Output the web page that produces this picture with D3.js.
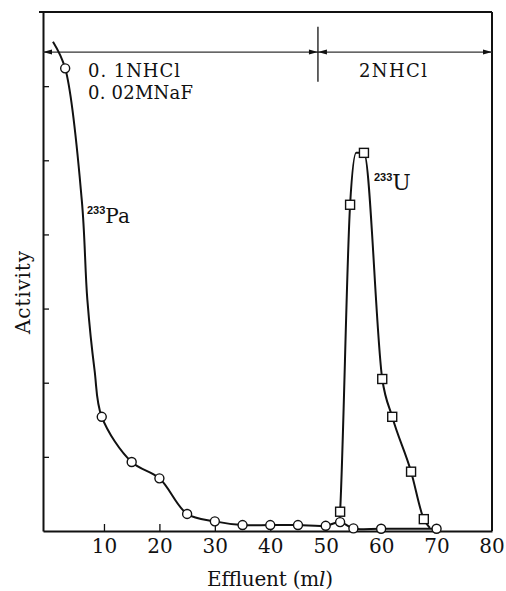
<!DOCTYPE html>
<html><head><meta charset="utf-8">
<script src="https://cdn.jsdelivr.net/npm/d3@7"></script>
<style>
html,body{margin:0;padding:0;background:#fff;}
svg{display:block;}
text{font-family:"DejaVu Serif","Liberation Serif",serif;fill:#111;}
</style></head>
<body>
<script>
// ---- data ----
const xTicks = [10, 20, 30, 40, 50, 60, 70, 80];
const yTicks = [1, 2, 3, 4, 5, 6];
// 233Pa: measured points (circles)
const paX = [3, 9.6, 15, 20, 25, 30, 35, 40, 45, 50, 52.6, 55, 60, 70];
const paY = [6.24, 1.54, 0.93, 0.71, 0.23, 0.13, 0.08, 0.08, 0.08, 0.07, 0.12, 0.035, 0.03, 0.03];
// 233Pa: unmarked points along the drawn curve
const paGuideX = [0.8, 6.0, 7.0, 8.3];
const paGuideY = [6.6, 4.46, 3.12, 2.17];
// 233U: measured points (squares)
const uX = [52.6, 54.4, 56.9, 60.2, 62.0, 65.4, 67.7];
const uY = [0.26, 4.40, 5.10, 2.05, 1.54, 0.80, 0.16];
// 233U: unmarked points along the drawn curve
const uGuideX = [52.5, 55.5, 68.8];
const uGuideY = [0.12, 5.10, 0.04];
// eluent change
const switchX = 48.6;
const bandY = 6.46;
const xDomain = [-1, 80];
const yDomain = [0, 7];

const W = 506, H = 591;
const svg = d3.select("body").append("svg").attr("width", W).attr("height", H);
const x = d3.scaleLinear().domain(xDomain).range([43, 492]);
const y = d3.scaleLinear().domain(yDomain).range([531, 12]);
const SERIF = "DejaVu Serif, Liberation Serif, serif";

// axes
const xAxis = d3.axisBottom(x).tickValues(xTicks.filter(v => v < 80)).tickSize(-7).tickSizeOuter(0).tickPadding(8);
const gx = svg.append("g").attr("transform", `translate(0,${y(0)})`).call(xAxis);
gx.select(".domain").attr("stroke", "#111").attr("stroke-width", 2);
gx.selectAll(".tick line").attr("stroke", "#111").attr("stroke-width", 1.3);
gx.selectAll(".tick text").attr("font-size", 20).attr("font-family", SERIF).attr("fill", "#111");
gx.append("text").attr("x", x(80)).attr("y", 8).attr("dy", "0.71em").attr("text-anchor", "middle")
  .attr("font-size", 20).attr("font-family", SERIF).attr("fill", "#111").text("80");

const yAxis = d3.axisLeft(y).tickValues(yTicks).tickSize(-6).tickSizeOuter(0).tickFormat("");
const gy = svg.append("g").attr("transform", `translate(${x(xDomain[0])},0)`).call(yAxis);
gy.select(".domain").attr("stroke", "#111").attr("stroke-width", 2);
gy.selectAll(".tick line").attr("stroke", "#111").attr("stroke-width", 1.3);

// frame top and right
svg.append("line").attr("x1", x(xDomain[0]) - 4).attr("x2", x(80)).attr("y1", y(7)).attr("y2", y(7))
  .attr("stroke", "#111").attr("stroke-width", 2);
svg.append("line").attr("x1", x(80)).attr("x2", x(80)).attr("y1", y(7)).attr("y2", y(0))
  .attr("stroke", "#111").attr("stroke-width", 2);

// eluent band with arrows
svg.append("line").attr("x1", x(xDomain[0])).attr("x2", x(80)).attr("y1", y(bandY)).attr("y2", y(bandY))
  .attr("stroke", "#333").attr("stroke-width", 1.2);
svg.append("line").attr("x1", x(switchX)).attr("x2", x(switchX)).attr("y1", y(6.8)).attr("y2", y(6.06))
  .attr("stroke", "#111").attr("stroke-width", 1.3);
function arrow(px, dir) {
  const py = y(bandY);
  svg.append("path").attr("d", `M${px},${py} l${-dir * 9},-2.5 l0,5 Z`).attr("fill", "#111");
}
arrow(x(xDomain[0]), -1);
arrow(x(switchX), 1);
arrow(x(switchX), -1);
arrow(x(80), 1);

// texts
svg.append("text").attr("x", 88).attr("y", 77).attr("font-size", 18).attr("textLength", 92)
  .attr("lengthAdjust", "spacing").text("0. 1NHCl");
svg.append("text").attr("x", 88).attr("y", 99).attr("font-size", 18).attr("textLength", 105)
  .attr("lengthAdjust", "spacing").text("0. 02MNaF");
svg.append("text").attr("x", 359).attr("y", 77).attr("font-size", 18).attr("textLength", 68)
  .attr("lengthAdjust", "spacing").text("2NHCl");

function isoLabel(px, py, mass, sym, fs) {
  const t = svg.append("text").attr("x", px).attr("y", py);
  t.append("tspan").attr("font-family", "Liberation Sans, Arial, sans-serif").attr("font-size", 11)
    .attr("font-weight", "bold").attr("dy", -9).text(mass);
  t.append("tspan").attr("font-size", fs).attr("dy", 9).text(sym);
}
isoLabel(87, 223, "233", "Pa", 20);
isoLabel(374, 190, "233", "U", 22);

svg.append("text").attr("transform", `translate(30,${(y(0) + y(7)) / 2 + 21}) rotate(-90)`)
  .attr("text-anchor", "middle").attr("font-size", 20).attr("textLength", 83).attr("lengthAdjust", "spacing")
  .text("Activity");

const xl = svg.append("text").attr("x", 207).attr("y", 586).attr("font-size", 20)
  .attr("textLength", 126).attr("lengthAdjust", "spacing");
xl.append("tspan").text("Effluent (m");
xl.append("tspan").attr("font-style", "italic").text("l");
xl.append("tspan").text(")");

// curves
function merge(ax, ay, gxs, gys) {
  const pts = ax.map((v, i) => [v, ay[i]]).concat(gxs.map((v, i) => [v, gys[i]]));
  return pts.sort((a, b) => a[0] - b[0]);
}
const paLine = d3.line().x(d => x(d[0])).y(d => y(d[1])).curve(d3.curveCatmullRom.alpha(0.5));
const uLine = d3.line().x(d => x(d[0])).y(d => y(d[1])).curve(d3.curveMonotoneX);
svg.append("path").attr("d", paLine(merge(paX, paY, paGuideX, paGuideY)))
  .attr("fill", "none").attr("stroke", "#111").attr("stroke-width", 2);
svg.append("path").attr("d", uLine(merge(uX, uY, uGuideX, uGuideY)))
  .attr("fill", "none").attr("stroke", "#111").attr("stroke-width", 2);

// markers
svg.selectAll("circle.pa").data(paX.map((v, i) => [v, paY[i]])).join("circle")
  .attr("class", "pa").attr("cx", d => x(d[0])).attr("cy", d => y(d[1])).attr("r", 4.5)
  .attr("fill", "#fff").attr("stroke", "#111").attr("stroke-width", 1.4);
svg.selectAll("rect.u").data(uX.map((v, i) => [v, uY[i]])).join("rect")
  .attr("class", "u").attr("x", d => x(d[0]) - 4.5).attr("y", d => y(d[1]) - 4.5)
  .attr("width", 9).attr("height", 9)
  .attr("fill", "#fff").attr("stroke", "#111").attr("stroke-width", 1.4);
</script>
</body></html>
